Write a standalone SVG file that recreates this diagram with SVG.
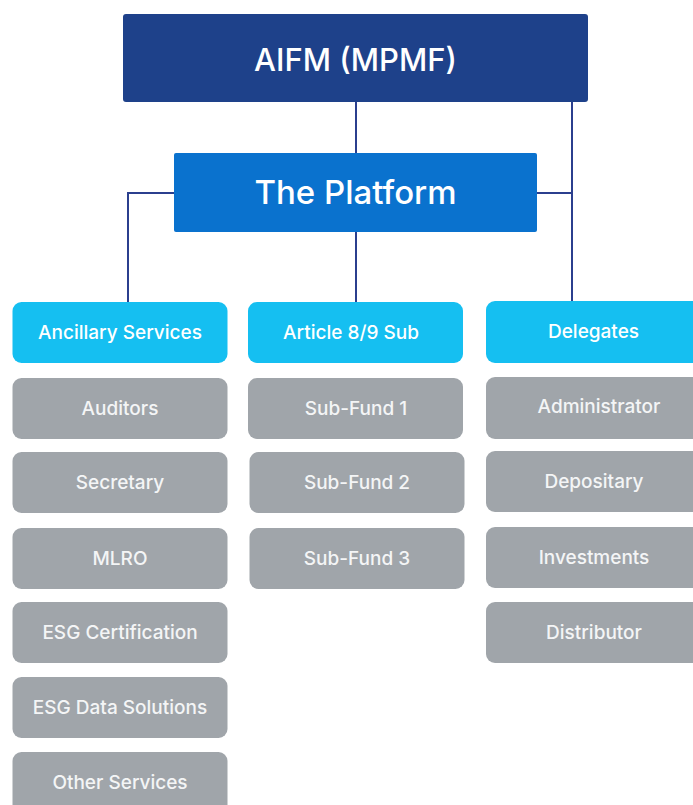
<svg xmlns="http://www.w3.org/2000/svg" width="693" height="805" viewBox="0 0 693 805">
<style>
text{font-family:Inter,"Noto Sans","Liberation Sans",sans-serif;text-anchor:middle;dominant-baseline:central;fill:#fff}
.big{font-size:31px;font-weight:500}
.hd{font-size:19px;font-weight:500}
.it{font-size:19px;font-weight:500;fill:#f4f5f6}
.c{fill:#15bff1}
.g{fill:#a0a5aa}
.ln{stroke:#2b3f8e;stroke-width:2;fill:none}
</style>
<rect width="693" height="805" fill="#fff"/>
<g id="connectors">
<path class="ln" d="M356 101V153M356 232V302M572 101V302M537 193H572M174 193H128V302"/>
</g>
<g id="aifm"><rect x="123" y="14" width="465" height="88" rx="3" fill="#1e418a"/><text class="big" x="355.5" y="59">AIFM (MPMF)</text></g>
<g id="platform"><rect x="174" y="153" width="363" height="79" rx="2" fill="#0a72ce"/><text class="big" x="355.5" y="192" style="font-size:33px">The Platform</text></g>
<g id="ancillary"><rect class="c" x="12.5" y="302" width="215" height="61" rx="9"/><text class="hd" x="120" y="332">Ancillary Services</text></g>
<g id="article"><rect class="c" x="248" y="302" width="215" height="61" rx="9"/><text class="hd" x="351" y="332">Article 8/9 Sub</text></g>
<g id="delegates"><rect class="c" x="486" y="301" width="220" height="62" rx="9"/><text class="hd" x="593.5" y="331">Delegates</text></g>
<g id="auditors"><rect class="g" x="12.5" y="378" width="215" height="61" rx="9"/><text class="it" x="120" y="408">Auditors</text></g>
<g id="secretary"><rect class="g" x="12.5" y="452" width="215" height="61" rx="9"/><text class="it" x="120" y="482">Secretary</text></g>
<g id="mlro"><rect class="g" x="12.5" y="528" width="215" height="61" rx="9"/><text class="it" x="120" y="558">MLRO</text></g>
<g id="esgcert"><rect class="g" x="12.5" y="602" width="215" height="61" rx="9"/><text class="it" x="120" y="632">ESG Certification</text></g>
<g id="esgdata"><rect class="g" x="12.5" y="677" width="215" height="61" rx="9"/><text class="it" x="120" y="707">ESG Data Solutions</text></g>
<g id="other"><rect class="g" x="12.5" y="752" width="215" height="70" rx="9"/><text class="it" x="120" y="782">Other Services</text></g>
<g id="subfund1"><rect class="g" x="248" y="378" width="215" height="61" rx="9"/><text class="it" x="356" y="408">Sub-Fund 1</text></g>
<g id="subfund2"><rect class="g" x="249.5" y="452" width="215" height="61" rx="9"/><text class="it" x="357" y="482">Sub-Fund 2</text></g>
<g id="subfund3"><rect class="g" x="249.5" y="528" width="215" height="61" rx="9"/><text class="it" x="357" y="558">Sub-Fund 3</text></g>
<g id="administrator"><rect class="g" x="486" y="377" width="220" height="62" rx="9"/><text class="it" x="599" y="406">Administrator</text></g>
<g id="depositary"><rect class="g" x="486" y="451" width="220" height="61" rx="9"/><text class="it" x="594" y="481">Depositary</text></g>
<g id="investments"><rect class="g" x="486" y="527" width="220" height="61" rx="9"/><text class="it" x="594" y="557">Investments</text></g>
<g id="distributor"><rect class="g" x="486" y="602" width="220" height="61" rx="9"/><text class="it" x="594" y="632">Distributor</text></g>
</svg>
